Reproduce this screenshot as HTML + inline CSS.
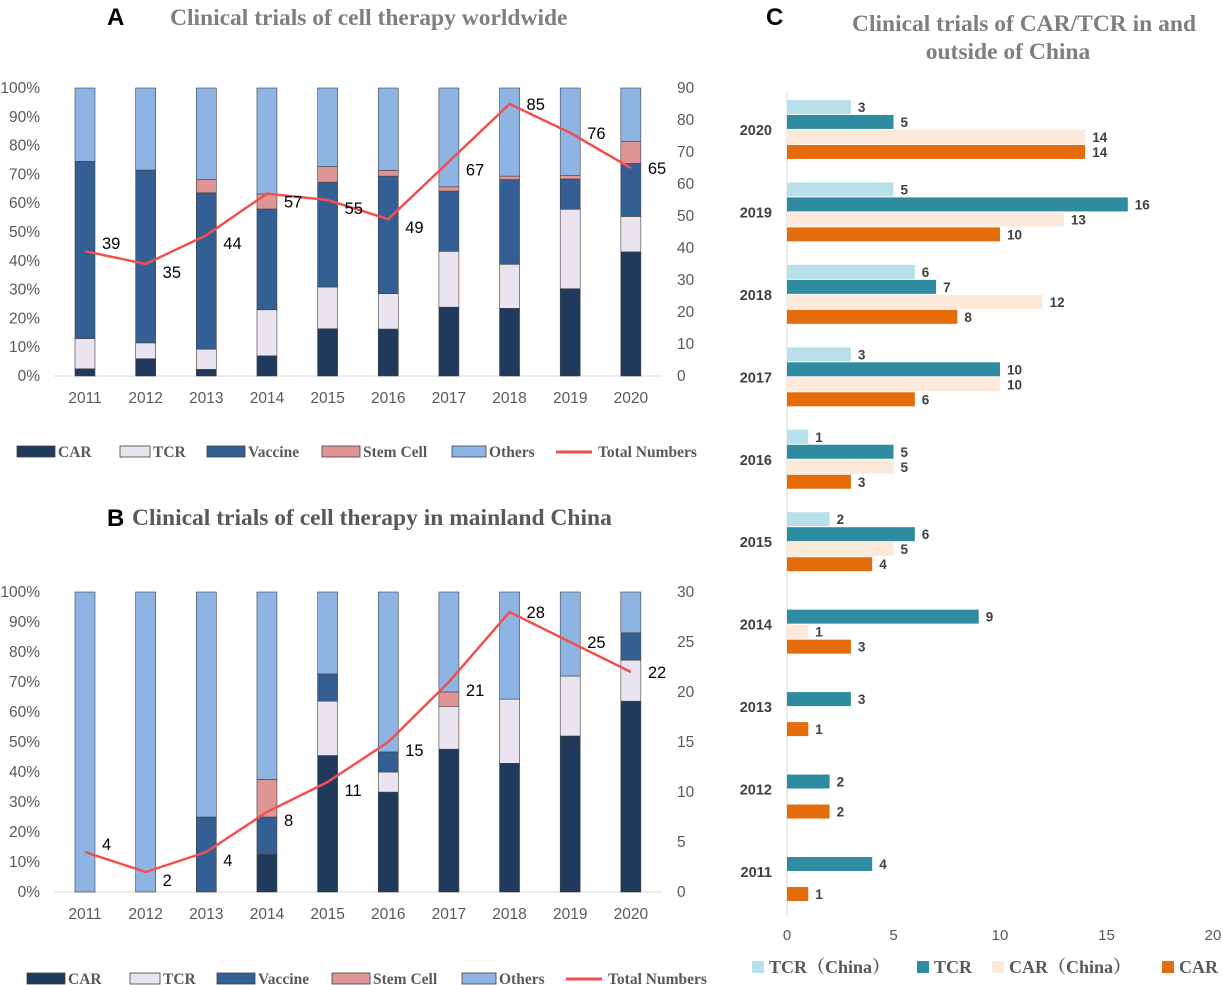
<!DOCTYPE html>
<html><head><meta charset="utf-8">
<style>
html,body{margin:0;padding:0;background:#fff;}
svg{display:block;font-family:"Liberation Sans",sans-serif;}
.serif{font-family:"Liberation Serif",serif;}
</style></head>
<body>
<svg id="chart" width="1223" height="985" viewBox="0 0 1223 985" xmlns="http://www.w3.org/2000/svg">
<text x="107" y="25" font-size="24" font-weight="bold" fill="#000">A</text>
<text x="170" y="25" class="serif" font-size="23.5" font-weight="bold" fill="#7f7f7f">Clinical trials of cell therapy worldwide</text>
<text x="107" y="526" font-size="24" font-weight="bold" fill="#000">B</text>
<text x="132" y="525" class="serif" font-size="23.5" font-weight="bold" fill="#595959">Clinical trials of cell therapy in mainland China</text>
<text x="766" y="25" font-size="24" font-weight="bold" fill="#000">C</text>
<text x="1024" y="31" class="serif" font-size="23.5" font-weight="bold" fill="#7f7f7f" text-anchor="middle">Clinical trials of CAR/TCR in and</text>
<text x="1008" y="59" class="serif" font-size="23.5" font-weight="bold" fill="#7f7f7f" text-anchor="middle">outside of China</text>
<g id="pa"></g><g id="pb"></g><g id="pc"></g>
</svg>
<script>
const years = ["2011","2012","2013","2014","2015","2016","2017","2018","2019","2020"];
// Panel A segment percentages
const aCAR = [2.5,6,2.3,7,16.4,16.3,23.9,23.5,30.3,43.1];
const aTCR = [10.5,5.5,7,16,14.5,12.3,19.4,15.3,27.6,12.3];
const aVaccine = [61.5,60,54.3,35,36.4,40.8,20.9,29.4,10.5,18.4];
const aStem = [0,0,4.6,5.2,5.4,2,1.5,1.2,1.3,7.7];
const aOthers = [25.5,28.5,31.8,36.8,27.3,28.6,34.3,30.6,30.3,18.5];
const aTotal = [39,35,44,57,55,49,67,85,76,65];
// Panel B segment percentages
const bCAR = [0,0,0,12.5,45.5,33.3,47.6,42.9,52,63.6];
const bTCR = [0,0,0,0,18.1,6.7,14.3,21.4,20,13.7];
const bVaccine = [0,0,25,12.5,9.1,6.7,0,0,0,9.1];
const bStem = [0,0,0,12.5,0,0,4.8,0,0,0];
const bOthers = [100,100,75,62.5,27.3,53.3,33.3,35.7,28,13.6];
const bTotal = [4,2,4,8,11,15,21,28,25,22];
// Panel C
const cYears = ["2011","2012","2013","2014","2015","2016","2017","2018","2019","2020"];
const cTCRChina = [0,0,0,0,2,1,3,6,5,3];
const cTCR = [4,2,3,9,6,5,10,7,16,5];
const cCARChina = [0,0,0,1,5,5,10,12,13,14];
const cCAR = [1,2,1,3,4,3,6,8,10,14];
const cTicks = [0,5,10,15,20];

const NS="http://www.w3.org/2000/svg";
function mk(parent,tag,attrs,text){const e=document.createElementNS(NS,tag);for(const k in attrs)e.setAttribute(k,attrs[k]);if(text!==undefined)e.textContent=text;parent.appendChild(e);return e;}

const segColors=["#203a5e","#e9e4f0","#335f94","#de9593","#8eb4e3"];
const segNames=["CAR","TCR","Vaccine","Stem Cell","Others"];

function stackPanel(g,top,bottom,series,totals,rmax,rstep,legendY,pfx){
  const x0=85, dx=60.65, bw=20;
  const xs=i=>x0+i*dx;
  const yp=v=>bottom-(v/100)*(bottom-top);
  const yr=v=>bottom-(v/rmax)*(bottom-top);
  for(let t=0;t<=100;t+=10){
    const l=mk(g,"text",{x:40,y:yp(t)+5,"font-size":15.5,fill:"#595959","text-anchor":"end"},t+"%");
    
    
  }
  for(let t=0;t<=rmax;t+=rstep){
    const l=mk(g,"text",{x:677,y:yr(t)+5,"font-size":15.5,fill:"#595959"},String(t));
    
    
  }
  const ax=mk(g,"line",{x1:54,x2:662,y1:bottom,y2:bottom,stroke:"#d9d9d9","stroke-width":1});
  
  
  years.forEach((yv,i)=>{
    let cum=0;
    series.forEach((s,k)=>{
      const v=s[i]; if(v<=0){return;}
      const r=mk(g,"rect",{x:xs(i)-bw/2,y:yp(cum+v),width:bw,height:yp(cum)-yp(cum+v),fill:segColors[k],stroke:"#404040","stroke-width":0.6});
      
      
      cum+=v;
    });
    const t=mk(g,"text",{x:xs(i),y:bottom+27,"font-size":15.5,fill:"#595959","text-anchor":"middle"},yv);
    
    
  });
  const pts=totals.map((v,i)=>xs(i)+","+yr(v)).join(" ");
  const pl=mk(g,"polyline",{points:pts,fill:"none",stroke:"#f24f4f","stroke-width":2.5,"stroke-linejoin":"round"});
  
  
  totals.forEach((v,i)=>{
    const t=mk(g,"text",{x:xs(i)+17,y:yr(v)+(i===0?-2:14)+(i>=7?-8:0),"font-size":16.5,fill:"#000"},String(v));
    
    
  });
  // legend
  const lx=[17,120,207,322,452];
  const sw=[38,30,38,38,34];
  const off=pfx==='b'?10:0;
  segNames.forEach((n,k)=>{
    const r=mk(g,"rect",{x:lx[k]+off,y:legendY-6,width:sw[k],height:11,fill:segColors[k],stroke:"#404040","stroke-width":0.8});
    
    
    const t=mk(g,"text",{x:lx[k]+off+sw[k]+3,y:legendY+5,"font-size":15.5,fill:"#595959","font-family":"Liberation Serif, serif","font-weight":"bold"},n);
    
    
  });
  const lo=556+off;
  const ll=mk(g,"line",{x1:lo,x2:lo+36,y1:legendY,y2:legendY,stroke:"#f24f4f","stroke-width":3});
  
  
  const lt=mk(g,"text",{x:lo+42,y:legendY+5,"font-size":15.5,fill:"#595959","font-family":"Liberation Serif, serif","font-weight":"bold"},"Total Numbers");
  
  
}
stackPanel(document.getElementById("pa"),88,376,[aCAR,aTCR,aVaccine,aStem,aOthers],aTotal,90,10,452,'a');
stackPanel(document.getElementById("pb"),592,892,[bCAR,bTCR,bVaccine,bStem,bOthers],bTotal,30,5,979,'b');

// Panel C
(function(){
  const g=document.getElementById("pc");
  const xv=v=>787+v*21.3;
  const yc=i=>872-i*82.45;
  const cSeries=[cTCRChina,cTCR,cCARChina,cCAR];
  const cColors=["#b7e0ea","#2e8ba0","#fde9d9","#e46c0a"];
  const cNames=["TCR（China）","TCR","CAR（China）","CAR"];
  const offs=[-23,-8,7,22];
  const ax=mk(g,"line",{x1:787,x2:787,y1:92,y2:915,stroke:"#d9d9d9","stroke-width":1});
  
  
  cYears.forEach((yv,i)=>{
    const t=mk(g,"text",{x:772,y:yc(i)+5,"font-size":14.5,"font-weight":"bold",fill:"#404040","text-anchor":"end"},yv);
    
    
    cSeries.forEach((s,k)=>{
      const v=s[i]; if(v<=0)return;
      const cy=yc(i)+offs[k];
      const r=mk(g,"rect",{x:787,y:cy-7,width:xv(v)-787,height:14,fill:cColors[k]});
      
      
      const l=mk(g,"text",{x:xv(v)+7,y:cy+5,"font-size":13.5,"font-weight":"bold",fill:"#404040"},String(v));
      
      
    });
  });
  cTicks.forEach(t=>{
    const l=mk(g,"text",{x:xv(t),y:940,"font-size":15,fill:"#595959","text-anchor":"middle"},String(t));
    
    
  });
  const lx=[752,917,992,1162];
  cNames.forEach((n,k)=>{
    const r=mk(g,"rect",{x:lx[k],y:961,width:12,height:12,fill:cColors[k]});
    
    
    const t=mk(g,"text",{x:lx[k]+17,y:973,"font-size":18,"font-weight":"bold",fill:"#595959","font-family":"Liberation Serif, Noto Serif CJK SC, serif"},n);
    
    
  });
})();
</script>
</body></html>
